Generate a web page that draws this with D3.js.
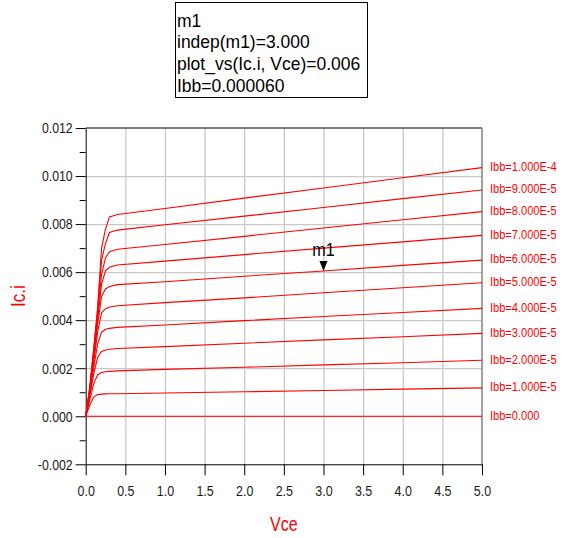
<html lang="en">
<head>
    <meta charset="utf-8">
    <title>Ic vs Vce</title>
    <script src="https://cdn.jsdelivr.net/npm/d3@7"></script>
    <style>
        body { margin: 0; background: #fff; }
        text { font-family: "Liberation Sans", Arial, sans-serif; }
    </style>
</head>
<body>
<script>
    // Vce sweep points (V)
    var vce = [0, 0.05, 0.1, 0.15, 0.2, 0.25, 0.3, 0.4, 1, 2, 3, 4, 5];
    // base current of each curve (A)
    var ibb = [1e-4, 9e-5, 8e-5, 7e-5, 6e-5, 5e-5, 4e-5, 3e-5, 2e-5, 1e-5, 0];
    // collector current in mA, one row per ibb value
    var icMilli = [
        [0, 1.2, 2.8, 4.5, 7.0, 7.8, 8.3, 8.4, 8.65, 9.08, 9.50, 9.93, 10.35],
        [0, 1.15, 2.7, 4.4, 6.5, 7.2, 7.65, 7.75, 7.97, 8.33, 8.69, 9.06, 9.42],
        [0, 1.1, 2.6, 4.2, 5.9, 6.6, 6.85, 6.95, 7.15, 7.49, 7.84, 8.18, 8.52],
        [0, 1.05, 2.5, 4.0, 5.5, 6.05, 6.2, 6.3, 6.46, 6.73, 7.0, 7.26, 7.53],
        [0, 1.0, 2.4, 3.8, 5.0, 5.3, 5.4, 5.48, 5.6, 5.83, 6.05, 6.28, 6.5],
        [0, 0.95, 2.2, 3.5, 4.3, 4.48, 4.55, 4.6, 4.73, 4.93, 5.14, 5.35, 5.56],
        [0, 0.9, 2.0, 3.0, 3.5, 3.62, 3.66, 3.7, 3.8, 3.98, 4.15, 4.32, 4.49],
        [0, 0.8, 1.75, 2.45, 2.7, 2.76, 2.79, 2.82, 2.9, 3.04, 3.18, 3.31, 3.45],
        [0, 0.65, 1.35, 1.72, 1.82, 1.85, 1.87, 1.89, 1.95, 2.04, 2.14, 2.23, 2.33],
        [0, 0.45, 0.8, 0.9, 0.92, 0.93, 0.935, 0.94, 0.97, 1.02, 1.07, 1.13, 1.18],
        [0, 0, 0, 0, 0, 0, 0, 0, 0, 0, 0, 0, 0]
    ];
    var xTicks = [0, 0.5, 1, 1.5, 2, 2.5, 3, 3.5, 4, 4.5, 5];
    var yTicks = [-0.002, 0, 0.002, 0.004, 0.006, 0.008, 0.010, 0.012];
    var yMinor = [-0.001, 0.001, 0.003, 0.005, 0.007, 0.009, 0.011];
    // marker m1
    var markerName = "m1";
    var markerVce = 3;
    var markerCurve = 4;
    var markerLines = ["m1", "indep(m1)=3.000", "plot_vs(Ic.i, Vce)=0.006", "Ibb=0.000060"];

    function squeeze(sel, k) {
        sel.each(function () {
            var w = this.getComputedTextLength();
            d3.select(this).attr("textLength", w * k).attr("lengthAdjust", "spacingAndGlyphs");
        });
    }

    var svg = d3.select("body").append("svg").attr("width", 564).attr("height", 538);

    var x = d3.scaleLinear().domain([0, 5]).range([85.7, 482]);
    var y = d3.scaleLinear().domain([-0.002, 0.012]).range([464.3, 128]);

    // grid
    svg.append("g").attr("transform", "translate(0,464.3)")
        .call(d3.axisBottom(x).tickValues(xTicks.slice(1, -1)).tickSize(-(464.3 - 128)).tickFormat(""))
        .call(function (g) { g.select(".domain").remove(); g.selectAll("line").attr("stroke", "#c8c8c8").attr("stroke-width", 1.3); });
    svg.append("g").attr("transform", "translate(85.7,0)")
        .call(d3.axisRight(y).tickValues(yTicks.slice(1, -1)).tickSize(482 - 85.7).tickFormat(""))
        .call(function (g) { g.select(".domain").remove(); g.selectAll("line").attr("stroke", "#c8c8c8").attr("stroke-width", 1.3); });

    // frame
    svg.append("line").attr("x1", x(0)).attr("x2", x(5)).attr("y1", y(0.012)).attr("y2", y(0.012)).attr("stroke", "#000");
    svg.append("line").attr("x1", x(5)).attr("x2", x(5)).attr("y1", y(0.012)).attr("y2", y(-0.002)).attr("stroke", "#808080").attr("stroke-width", 1.5);

    // axes
    var xAxis = svg.append("g").attr("transform", "translate(0,464.3)")
        .call(d3.axisBottom(x).tickValues(xTicks).tickSize(11).tickSizeOuter(0).tickPadding(10).tickFormat(function (d) { return d.toFixed(1); }));
    var yAxis = svg.append("g").attr("transform", "translate(85.7,0)")
        .call(d3.axisLeft(y).tickValues(yTicks).tickSize(10).tickSizeOuter(0).tickPadding(3).tickFormat(function (d) { return d.toFixed(3); }));
    svg.append("g").attr("transform", "translate(85.7,0)")
        .call(d3.axisLeft(y).tickValues(yMinor).tickSize(6).tickFormat(""))
        .call(function (g) { g.select(".domain").remove(); });
    [xAxis, yAxis].forEach(function (g) {
        g.selectAll("text").attr("font-size", 15).attr("fill", "#1a1a1a").style("font-family", "'Liberation Sans', Arial, sans-serif");
        g.selectAll("line").attr("stroke", "#000");
        g.select(".domain").attr("stroke", "#000");
    });
    squeeze(xAxis.selectAll("text"), 0.83);
    squeeze(yAxis.selectAll("text"), 0.82);

    // curves
    var line = d3.line().x(function (d) { return x(d[0]); }).y(function (d) { return y(d[1] / 1000); });
    svg.selectAll("path.curve").data(icMilli).enter().append("path").attr("class", "curve")
        .attr("d", function (row) { return line(row.map(function (v, i) { return [vce[i], v]; })); })
        .attr("fill", "none").attr("stroke", "#ff0000").attr("stroke-width", 1.1);

    // curve labels (narrowed with a horizontal scale)
    svg.selectAll("g.lab").data(ibb).enter().append("g").attr("class", "lab")
        .attr("transform", function (d, i) { return "translate(490," + (y(icMilli[i][vce.length - 1] / 1000) - 1) + ") scale(0.82,1)"; })
        .append("text")
        .attr("dominant-baseline", "central")
        .attr("font-size", 13.5).attr("fill", "#ff0000")
        .text(function (d) { return "Ibb=" + (d === 0 ? "0.000" : d.toExponential(3).toUpperCase()); });

    // axis titles
    var vt = svg.append("text").attr("x", (x(0) + x(5)) / 2).attr("y", 531).attr("text-anchor", "middle")
        .attr("font-size", 20).attr("fill", "#ff0000").text("Vce");
    squeeze(vt, 0.8);
    var it = svg.append("text").attr("transform", "translate(25," + (y(0.012) + y(-0.002)) / 2 + ") rotate(-90)")
        .attr("text-anchor", "middle").attr("font-size", 20).attr("fill", "#ff0000").text("Ic.i");
    squeeze(it, 0.85);

    // marker
    var mi = vce.indexOf(markerVce);
    var mx = x(markerVce), my = y(icMilli[markerCurve][mi] / 1000);
    svg.append("path").attr("d", "M" + mx + "," + my + "l-4,-10h8z").attr("fill", "#000");
    var mt = svg.append("text").attr("x", mx).attr("y", my - 15).attr("text-anchor", "middle")
        .attr("font-size", 19).attr("fill", "#000").text(markerName);
    squeeze(mt, 0.85);

    // marker readout box
    svg.append("rect").attr("x", 175.5).attr("y", 2.5).attr("width", 192).attr("height", 95)
        .attr("fill", "#fff").attr("stroke", "#000");
    var bt = svg.selectAll("text.box").data(markerLines).enter().append("text").attr("class", "box")
        .attr("x", 177).attr("y", function (d, i) { return 26.7 + i * 21.7; })
        .attr("font-size", 19).attr("fill", "#000").text(function (d) { return d; });
    squeeze(bt, 0.92);
</script>
</body>
</html>
